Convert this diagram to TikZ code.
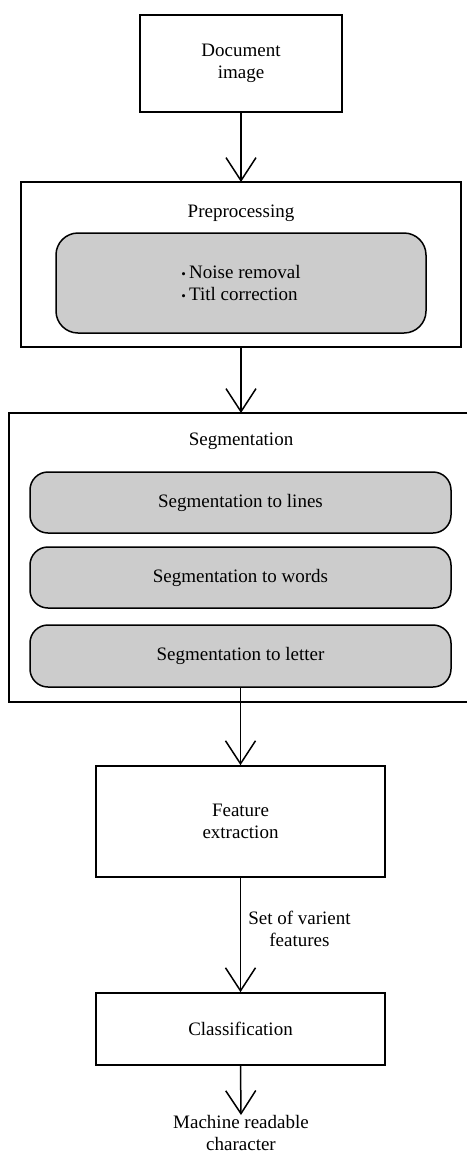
\documentclass[tikz,border=0pt]{standalone}
\usepackage{fontspec}
\setmainfont{Liberation Serif}
\usetikzlibrary{arrows.meta}
\begin{document}
\begin{tikzpicture}[x=1pt,y=-1pt,
  every node/.style={font=\fontsize{19}{22}\selectfont, inner sep=0pt},
  plainbox/.style={draw, line width=1.7pt, rectangle, align=center},
  graybox/.style={draw, line width=1.5pt, rectangle, fill=black!20, align=center},
  flow/.style={line width=1.5pt, -{Straight Barb[length=23pt,width=30pt,line width=1.5pt]}}]
\useasboundingbox (0,0) rectangle (467,1176);
% Document image
\node[plainbox, minimum width=202pt, minimum height=97pt] (doc) at (241,63.5) {Document\\image};
% Preprocessing
\node[plainbox, minimum width=440pt, minimum height=165pt] (pre) at (241,264.5) {};
\node (pretitle) at (241,213) {Preprocessing};
\node[graybox, rounded corners=22pt, minimum width=370pt, minimum height=100pt, align=left] (preinner) at (241,283)
  {{\fontsize{13}{13}\selectfont\raisebox{0.5pt}{•}}\,Noise removal\\{\fontsize{13}{13}\selectfont\raisebox{0.5pt}{•}}\,Titl correction};
% Segmentation (open on the right)
\coordinate (segtl) at (9,413);
\coordinate (segbl) at (9,702);
\coordinate (segtr) at (467,413);
\coordinate (segbr) at (467,702);
\draw[line width=1.7pt] (segtr) -- (segtl) -- (segbl) -- (segbr);
\node (segtitle) at (241,441) {Segmentation};
\node[graybox, rounded corners=18pt, minimum width=421pt, minimum height=61pt] (s1) at (240.5,502.5) {Segmentation to lines};
\node[graybox, rounded corners=18pt, minimum width=421pt, minimum height=61pt] (s2) at (240.5,577.5) {Segmentation to words};
\node[graybox, rounded corners=18pt, minimum width=421pt, minimum height=62pt] (s3) at (240.5,656) {Segmentation to letter};
% Feature extraction
\node[plainbox, minimum width=289pt, minimum height=111pt] (feat) at (240.5,821.5) {Feature\\extraction};
% Classification
\node[plainbox, minimum width=289pt, minimum height=72pt] (cls) at (240.5,1029) {Classification};
% Output
\node[align=center, anchor=north] (out) at (241,1115) {Machine readable\\character};
% Arrows
\draw[flow] (doc.south) -- (241,182);
\draw[flow] (pre.south) -- (241,413);
\draw[flow] (s3.south) -- (feat.north);
\draw[flow] (feat.south) -- node[right=7pt, align=center, pos=0.45] (lbl) {Set of varient\\features} (cls.north);
\draw[flow] (cls.south) -- (out.north);
\end{tikzpicture}
\end{document}
